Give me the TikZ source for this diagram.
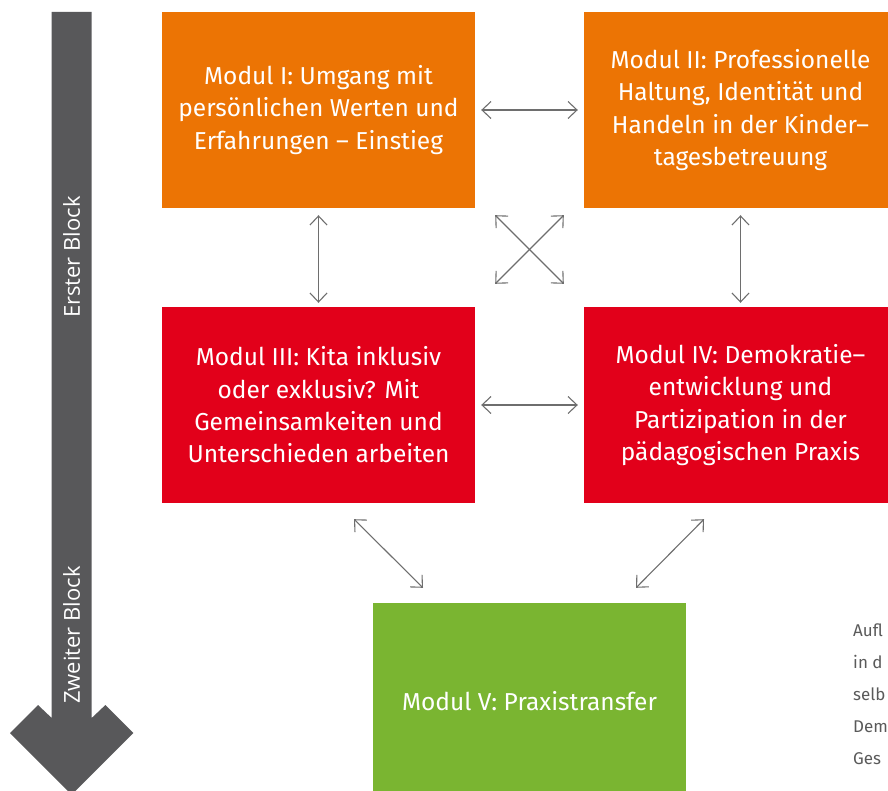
\documentclass[tikz,border=0pt]{standalone}
\usepackage{fontspec}
\setmainfont{Fira Sans}
\newfontfamily\blockfont{Open Sans}
\usetikzlibrary{positioning,arrows.meta,calc}

\definecolor{modorange}{HTML}{EC7404}
\definecolor{modred}{HTML}{E2001A}
\definecolor{modgreen}{HTML}{7AB531}
\definecolor{blockgray}{HTML}{58585A}
\definecolor{linkgray}{HTML}{6E6E6E}
\definecolor{notegray}{HTML}{5A5A5A}

\tikzset{
  modbox/.style={rectangle, minimum width=313pt, minimum height=196pt, inner sep=0pt,
    text=white, align=center, font=\fontsize{24.5}{32.3}\selectfont},
  link/.style={{Straight Barb[length=9pt,width=17pt]}-{Straight Barb[length=9pt,width=17pt]},
    draw=linkgray, line width=1.1pt},
  blocklabel/.style={rotate=90, text=white, font=\blockfont\fontsize{22}{26}\selectfont},
  note/.style={anchor=base west, inner sep=0pt, text=notegray, font=\fontsize{17}{20}\selectfont},
}

\begin{document}
\begin{tikzpicture}[x=1pt, y=-1pt]

    \useasboundingbox (0,0) rectangle (888,791);
    \clip (0,0) rectangle (888,791);

    % Draw the block arrow on the left
    \fill[blockgray] (51.7,12) -- (91.7,12) -- (91.7,718) -- (105.4,705) -- (133.4,733)
      -- (71.7,794.7) -- (10,733) -- (38,705) -- (51.7,718) -- cycle;
    \node[blocklabel] (erster) at (71.7,257) {Erster Block};
    \node[blocklabel] (zweiter) at (71.7,635) {Zweiter Block};

    % Draw the modules
    \node[modbox, fill=modorange] (m1) at (318.5,110) {Modul I: Umgang mit\\persönlichen Werten und\\Erfahrungen – Einstieg};
    \node[modbox, fill=modorange] (m2) at (740.5,110) {Modul II: Professionelle\\Haltung, Identität und\\Handeln in der Kinder–\\tagesbetreuung};
    \node[modbox, fill=modred] (m3) at (318.5,405) {Modul III: Kita inklusiv\\oder exklusiv? Mit\\Gemeinsamkeiten und\\Unterschieden arbeiten};
    \node[modbox, fill=modred] (m4) at (740.5,405) {Modul IV: Demokratie–\\entwicklung und\\Partizipation in der\\pädagogischen Praxis};
    \node[modbox, fill=modgreen] (m5) at (529.5,701) {Modul V: Praxistransfer};

    % Draw the links between the modules
    \draw[link, shorten <=6pt, shorten >=6pt] (m1.east) -- (m2.west);
    \draw[link, shorten <=6pt, shorten >=6pt] (m3.east) -- (m4.west);
    \draw[link, shorten <=7pt, shorten >=4pt] (m1.south) -- (m3.north);
    \draw[link, shorten <=7pt, shorten >=4pt] (m2.south) -- (m4.north);
    \draw[link] ($(m1.south east)+(20,7)$) -- ($(m4.north west)+(-20,-23)$);
    \draw[link] ($(m2.south west)+(-20,7)$) -- ($(m3.north east)+(20,-23)$);
    \draw[link] ($(m3.south)+(35.5,16)$) -- ($(m5.north)+(-106.5,-15)$);
    \draw[link] ($(m4.south)+(-36.5,16)$) -- ($(m5.north)+(106.5,-15)$);

    % Draw the cut-off note on the right
    \node[note] (n1) at (853,636) {Aufl};
    \node[note] (n2) at (853,668) {in d};
    \node[note] (n3) at (853,700) {selb};
    \node[note] (n4) at (853,732) {Dem};
    \node[note] (n5) at (853,764) {Ges};

  \end{tikzpicture}
\end{document}
